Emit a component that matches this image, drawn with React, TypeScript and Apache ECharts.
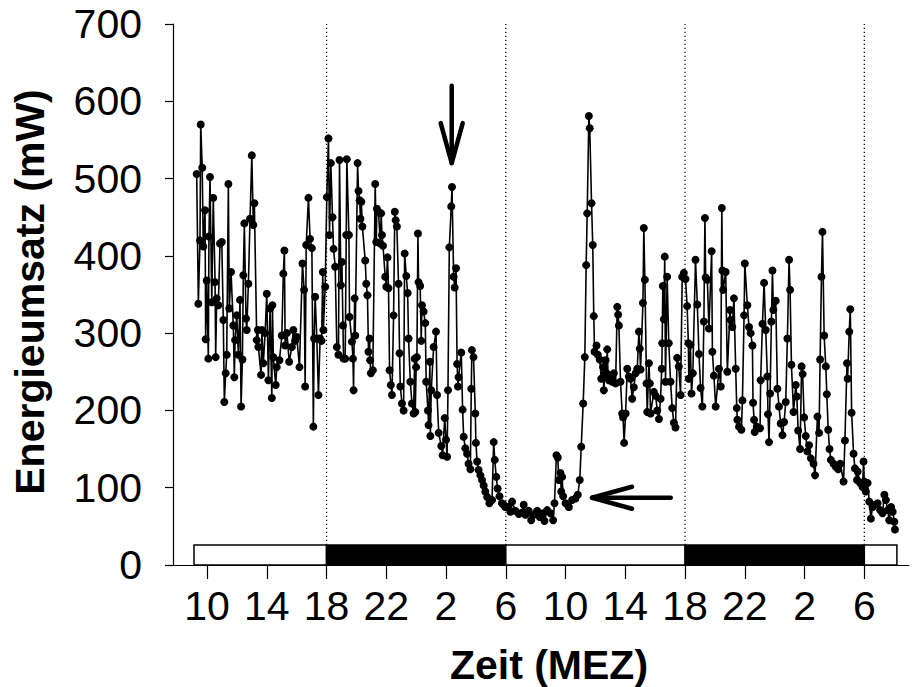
import React, { useEffect, useRef } from "react";
import * as echarts from "echarts";

// ---- data: [hour since day-1 00:00, energy expenditure mW] ----
const afternoonDay1: [number, number][] = [
  [9.31,506],[9.42,338],[9.53,420],[9.58,570],[9.68,514],[9.75,412],[9.87,459],[9.91,292],[9.98,368],
  [10.09,267],[10.13,425],[10.2,502],[10.32,340],[10.42,475],[10.54,366],[10.58,269],[10.65,345],[10.76,336],
  [10.87,416],[10.99,418],[11.09,317],[11.16,211],[11.25,248],[11.32,272],[11.43,493],[11.49,332],[11.61,379],
  [11.76,310],[11.83,243],[11.88,291],[11.99,323],[12.1,272],[12.21,343],[12.28,205],[12.37,266],[12.43,375],
  [12.5,442],[12.61,319],[12.66,304],[12.77,364],[12.88,448],[13.0,530],[13.1,440],[13.17,468],[13.33,291],
  [13.4,304],[13.44,282],[13.62,246],[13.67,304],[13.77,261],[13.89,300],[14.0,351],[14.11,239],[14.22,332],
  [14.34,216],[14.38,336],[14.44,269],[14.6,233],[14.67,256],[14.85,265],[15.01,297],[15.11,377],[15.18,407],
  [15.23,284],[15.35,300],[15.5,263],[15.68,282],[15.78,304],[15.9,290],[16.01,295],[16.19,256],[16.39,390],
  [16.5,356],[16.57,231],[16.64,414],[16.79,475],[16.9,422],[17.02,410],[17.12,179],[17.17,293],[17.24,347],
  [17.35,293],[17.46,220],[17.57,293],[17.67,290],[17.75,379],[17.79,304],[17.91,360]
];

const night1: [number, number][] = [
  [18.02,476],[18.13,552],[18.2,427],[18.29,520],[18.4,450],[18.47,409],[18.58,386],[18.69,282],[18.8,272],
  [18.87,524],[18.96,362],[19.03,392],[19.1,310],[19.14,267],[19.25,267],[19.32,427],[19.36,525],[19.5,427],
  [19.54,321],[19.7,289],[19.77,267],[19.81,226],[19.88,345],[19.92,297],[20.08,520],[20.14,484],[20.22,472],
  [20.27,448],[20.33,470],[20.4,438],[20.59,394],[20.66,364],[20.74,349],[20.81,276],[20.88,293],[20.92,265],
  [20.97,248],[21.1,252],[21.26,493],[21.33,418],[21.37,461],[21.48,457],[21.6,416],[21.66,455],[21.71,427],
  [21.78,413],[21.93,373],[22.0,360],[22.08,398],[22.15,358],[22.22,252],[22.31,233],[22.38,220],[22.49,323],
  [22.57,457],[22.63,446],[22.71,438],[22.82,364],[22.89,274],[22.94,231],[23.05,209],[23.16,200],[23.23,403],
  [23.34,374],[23.43,352],[23.49,293],[23.61,237],[23.72,209],[23.83,196],[23.9,267],[23.94,198],[24.0,256],
  [24.05,269],[24.12,429],[24.16,366],[24.27,361],[24.34,290],[24.39,336],[24.5,328],[24.61,313],[24.67,237],
  [24.79,200],[24.83,181],[24.92,263],[24.95,167],[25.01,226],[25.17,282],[25.33,302],[25.4,220],[25.51,171],
  [25.68,154],[25.77,142],[25.91,190],[26.0,162],[26.07,140],[26.13,226],[26.22,411],[26.35,464],[26.4,489],
  [26.51,373],[26.58,359],[26.67,384],[26.74,260],[26.8,231],[26.84,243],[27.02,275],[27.11,201],[27.18,166],
  [27.29,151],[27.41,144],[27.51,131],[27.63,124],[27.69,228],[27.73,278],[27.84,269],[27.96,196],[28.0,158],
  [28.08,134],[28.18,123],[28.3,116],[28.41,110],[28.52,103],[28.63,95],[28.75,88],[28.9,80],[29.08,84],
  [29.19,159],[29.26,136],[29.36,114],[29.45,99],[29.58,89],[29.74,80],[29.87,78]
];

const day2: [number, number][] = [
  [29.97,75],[30.19,75],[30.31,69],[30.42,82],[30.64,70],[30.87,66],[31.09,68],[31.2,78],[31.31,65],
  [31.53,70],[31.7,58],[31.87,65],[32.1,70],[32.27,62],[32.5,67],[32.59,57],[32.77,71],[32.99,67],
  [33.17,58],[33.26,80],[33.39,142],[33.48,139],[33.55,110],[33.66,119],[33.71,95],[33.77,114],[33.84,89],
  [34.0,80],[34.22,75],[34.44,84],[34.66,86],[34.82,91],[34.95,110],[35.05,153],[35.18,209],[35.29,269],
  [35.38,388],[35.45,455],[35.56,581],[35.62,565],[35.74,468],[35.82,414],[35.89,322],[35.94,276],[36.07,284],
  [36.16,272],[36.29,266],[36.39,241],[36.52,256],[36.56,226],[36.68,265],[36.74,248],[36.79,279],[36.85,244],
  [36.9,239],[37.01,241],[37.12,237],[37.23,248],[37.35,235],[37.46,334],[37.52,324],[37.57,310],[37.68,237],
  [37.79,196],[37.85,191],[37.92,158],[38.02,196],[38.13,254],[38.24,244],[38.35,241],[38.46,215],[38.57,230],
  [38.69,248],[38.8,254],[38.91,302],[38.97,280],[39.02,253],[39.18,339],[39.24,436],[39.31,369],[39.42,235],
  [39.47,198],[39.58,261],[39.64,235],[39.69,196],[39.91,224],[40.03,219],[40.14,200],[40.25,189],[40.36,215],
  [40.44,254],[40.47,287],[40.51,361],[40.58,318],[40.64,399],[40.69,237],[40.8,373],[40.91,287],[41.03,237],
  [41.14,203],[41.25,184],[41.36,178],[41.47,268],[41.58,257],[41.7,220],[41.81,373],[41.92,378]
];

const night2: [number, number][] = [
  [42.03,370],[42.14,335],[42.22,287],[42.25,241],[42.36,285],[42.43,222],[42.52,248],[42.7,395],[42.82,337],
  [42.93,273],[43.04,229],[43.16,205],[43.26,315],[43.33,449],[43.38,372],[43.49,369],[43.6,306],[43.78,406],
  [43.83,276],[43.93,245],[44.05,205],[44.27,254],[44.39,231],[44.46,462],[44.5,381],[44.55,356],[44.72,379],
  [44.83,250],[45.01,330],[45.05,317],[45.16,308],[45.27,345],[45.39,254],[45.46,203],[45.5,188],[45.61,179],
  [45.77,175],[45.84,213],[45.95,323],[46.0,390],[46.17,336],[46.28,308],[46.39,300],[46.51,284],[46.55,210],
  [46.62,188],[46.66,172],[46.8,179],[47.02,177],[47.06,239],[47.18,312],[47.29,365],[47.4,304],[47.51,244],
  [47.55,195],[47.62,159],[47.69,222],[47.78,315],[47.85,381],[47.91,330],[48.07,342],[48.18,228],[48.29,205],
  [48.4,183],[48.52,168],[48.63,185],[48.74,211],[48.85,293],[48.96,395],[49.03,356],[49.12,259],[49.26,198],
  [49.41,233],[49.48,218],[49.57,174],[49.7,150],[49.8,257],[49.87,247],[49.97,191],[50.08,167],[50.19,147],
  [50.3,155],[50.42,138],[50.6,131],[50.7,116],[50.86,192],[50.97,171],[51.04,266],[51.13,373],[51.2,431],
  [51.31,297],[51.42,257],[51.49,221],[51.58,175],[51.67,150],[51.76,136],[51.94,131],[52.09,127],[52.25,124],
  [52.39,131],[52.61,108],[52.7,161],[52.84,261],[52.88,241],[52.99,302],[53.06,331],[53.15,197],[53.28,144],
  [53.37,125],[53.51,110],[53.55,121],[53.72,106],[53.88,101],[53.95,134],[53.99,108]
];

const morningDay3: [number, number][] = [
  [54.1,95],[54.22,106],[54.33,82],[54.44,60],[54.55,75],[54.7,78],[54.89,80],[55.06,71],[55.22,67],
  [55.34,91],[55.44,84],[55.56,71],[55.67,58],[55.79,75],[55.9,69],[56.01,56],[56.05,46]
];

// light regime bar: [start hour, end hour, 1 = dark]
const lightPhases: [number, number, number][] = [
  [9.13, 18, 0], [18, 30, 1], [30, 42, 0], [42, 54, 1], [54, 56.18, 0]
];
const lightBarHeight = 26;
const phaseChanges = [18, 30, 42, 54];
const tickHours = [10, 14, 18, 22, 26, 30, 34, 38, 42, 46, 50, 54];
// arrows: [x0, y0, x1 (tip), y1 (tip)]
const arrows: [number, number, number, number][] = [
  [26.38, 620, 26.38, 520],
  [41.04, 87, 35.77, 87]
];

const FONT = "'Liberation Sans', Arial, Helvetica, sans-serif";

export default function App() {
  const ref = useRef<HTMLDivElement>(null);
  useEffect(() => {
    if (!ref.current) return;
    const chart = echarts.init(ref.current, undefined, { renderer: "svg" });
    const series = [...afternoonDay1, ...night1, ...day2, ...night2, ...morningDay3];
    chart.setOption({
      animation: false,
      backgroundColor: "#fff",
      grid: { left: 173, right: 6, top: 24, bottom: 122 },
      xAxis: {
        type: "value",
        min: 7.724,
        max: 56.99,
        axisLine: { show: true, onZero: false, lineStyle: { color: "#000", width: 1.2 } },
        axisTick: { show: true, length: 14, customValues: tickHours, lineStyle: { color: "#000", width: 1.2 } },
        axisLabel: {
          customValues: tickHours,
          formatter: (v: number) => String(((Math.round(v) % 24) + 24) % 24),
          fontSize: 41, color: "#000", fontFamily: FONT, margin: 20
        },
        splitLine: { show: false }
      },
      yAxis: {
        type: "value",
        min: 0, max: 700, interval: 100,
        axisLine: { show: true, lineStyle: { color: "#000", width: 1.2 } },
        axisTick: { show: true, length: 8, lineStyle: { color: "#000", width: 1.2 } },
        axisLabel: { fontSize: 41, color: "#000", fontFamily: FONT, margin: 31 },
        splitLine: { show: false }
      },
      graphic: [
        {
          type: "text", x: 30, y: 292, rotation: Math.PI / 2,
          style: { text: "Energieumsatz (mW)", fontSize: 41, fontWeight: "bold", fontFamily: FONT, fill: "#000", align: "center", verticalAlign: "middle" }
        },
        {
          type: "text", x: 549, y: 665,
          style: { text: "Zeit (MEZ)", fontSize: 41, fontWeight: "bold", fontFamily: FONT, fill: "#000", align: "center", verticalAlign: "middle" }
        }
      ],
      series: [
        {
          type: "custom", clip: false, z: 1,
          data: lightPhases,
          renderItem: (_p: any, api: any) => {
            const a = api.coord([api.value(0), lightBarHeight]);
            const b = api.coord([api.value(1), 0]);
            return {
              type: "rect",
              shape: { x: a[0], y: a[1], width: b[0] - a[0], height: b[1] - a[1] },
              style: { fill: api.value(2) ? "#000" : "#fff", stroke: "#000", lineWidth: 1.5 }
            };
          }
        },
        {
          type: "custom", clip: false, z: 2,
          data: phaseChanges.map((h) => [h]),
          renderItem: (_p: any, api: any) => {
            const a = api.coord([api.value(0), lightBarHeight]);
            const b = api.coord([api.value(0), 700]);
            return {
              type: "line",
              shape: { x1: a[0], y1: a[1], x2: b[0], y2: b[1] },
              style: { stroke: "#000", lineWidth: 1.2, lineDash: [1.2, 2.8] }
            };
          }
        },
        {
          type: "line", z: 3,
          data: series,
          symbol: "circle", symbolSize: 8, showSymbol: true,
          itemStyle: { color: "#000" },
          lineStyle: { color: "#000", width: 1.6 }
        },
        {
          type: "custom", clip: false, z: 4,
          data: arrows,
          renderItem: (_p: any, api: any) => {
            const s = api.coord([api.value(0), api.value(1)]);
            const t = api.coord([api.value(2), api.value(3)]);
            const dx = t[0] - s[0], dy = t[1] - s[1];
            const len = Math.sqrt(dx * dx + dy * dy);
            const ux = dx / len, uy = dy / len;
            const hl = 40, hw = 11;
            const w1 = [t[0] - ux * hl - uy * hw, t[1] - uy * hl + ux * hw];
            const w2 = [t[0] - ux * hl + uy * hw, t[1] - uy * hl - ux * hw];
            const st = { stroke: "#000", lineWidth: 4.5, lineCap: "round", lineJoin: "round", fill: null };
            return {
              type: "group",
              children: [
                { type: "line", shape: { x1: s[0], y1: s[1], x2: t[0], y2: t[1] }, style: st },
                { type: "polyline", shape: { points: [w1, t, w2] }, style: st }
              ]
            };
          }
        }
      ]
    });
    return () => chart.dispose();
  }, []);
  return <div ref={ref} style={{ position: "fixed", left: 0, top: 0, width: 915, height: 687, background: "#fff" }} />;
}
